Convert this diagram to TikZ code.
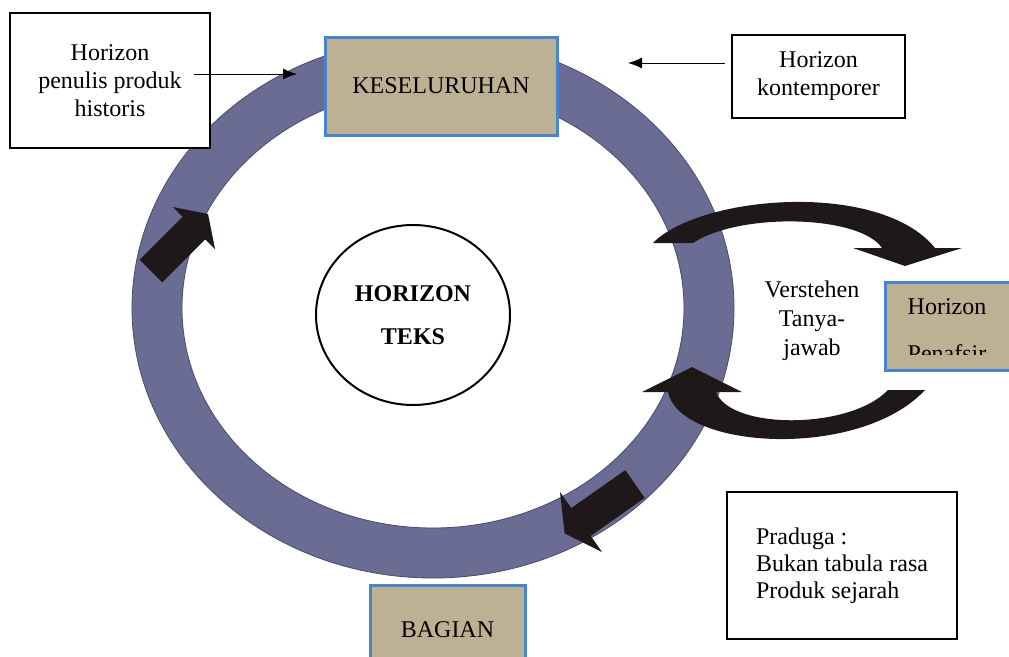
\documentclass[tikz,border=0pt]{standalone}
\usepackage{fontspec}
\setmainfont{Liberation Serif}
\usepackage{xcolor}
\usepackage{tikz}
\usetikzlibrary{arrows,arrows.meta,shapes.geometric,positioning}
\definecolor{ringblue}{RGB}{106,108,148}
\definecolor{boxtan}{RGB}{190,176,146}
\definecolor{edgeblue}{RGB}{72,132,204}
\definecolor{arrowblack}{RGB}{30,24,24}
\tikzset{
  notebox/.style={draw=black, line width=2.5pt, fill=white, align=center,
  inner sep=0pt},
  tanbox/.style={draw=edgeblue, line width=3pt, fill=boxtan, inner sep=0pt},
  thinarrow/.style={-{Latex[length=14pt,width=11pt]}, line width=1pt},
  blockarrow/.style={fill=arrowblack, draw=none},
  textfont/.style={font=\fontsize{24}{28}\selectfont}
}

\begin{document}
\begin{tikzpicture}[x=1pt, y=-1pt, every node/.style={textfont}]
		\useasboundingbox (0,0) rectangle (1009,656);
		\clip (0,0) rectangle (1009,656);
		\fill[white] (0,0) rectangle (1009,656);
		% ring
		\path[fill=ringblue, draw=ringblue!70!black, line width=0.8pt, even odd rule]
			(433,308) ellipse [x radius=301, y radius=270]
			(433,308) ellipse [x radius=251, y radius=220];
		\node[ellipse, draw, line width=2pt, minimum width=194pt, minimum height=180pt,
			align=center, font=\fontsize{24}{43}\selectfont\bfseries] (teks) at (413,315)
			{HORIZON\\TEKS};
		% boxes
		\node[notebox, minimum width=200pt, minimum height=135pt] (penulis) at (110,80.5)
			{Horizon\\penulis produk\\historis};
		\node[tanbox, minimum width=232pt, minimum height=98pt] (keseluruhan) at (441,86)
			{KESELURUHAN};
		\node[notebox, minimum width=173pt, minimum height=83pt] (kontemporer) at (818.5,76.5)
			{Horizon\\kontemporer};
		\node[tanbox, minimum width=155pt, minimum height=90pt] (bagian) at (447.5,630)
			{BAGIAN};
		\node[notebox, minimum width=230pt, minimum height=147pt, align=left,
			font=\fontsize{24}{27}\selectfont] (praduga) at (842,565.5)
			{Praduga :\\Bukan tabula rasa\\Produk sejarah};
		\node[align=center, font=\fontsize{24}{29}\selectfont] (verstehen) at (812,321)
			{Verstehen\\Tanya-\\jawab};
		\node[tanbox, minimum width=125pt, minimum height=88pt] (penafsir) at (947.5,326) {};
		\node (penafsir title) at (947,307) {Horizon};
		\begin{scope}
			\clip (885,282) rectangle (1010,354);
			\node[anchor=base] (penafsir name) at (947,361) {Penafsir};
		\end{scope}
		% curved arrows
		\fill[blockarrow] (653,243) .. controls (700,195) and (880,180) .. (935,248)
			-- (962,248) -- (905,266) -- (853,248) -- (882,248)
			.. controls (860,215) and (740,212) .. (693,243) -- cycle;
		\fill[blockarrow] (925,390) .. controls (860,460) and (680,450) .. (668,392)
			-- (642,392) -- (692,367) -- (742,392) -- (716,392)
			.. controls (730,430) and (850,430) .. (888,390) -- cycle;
		% arrows on the ring
		\fill[blockarrow] (139.7,259.7) -- (182.7,216.7) -- (173,207) -- (208,214)
			-- (215,249) -- (205.3,239.3) -- (162.3,282.3) -- cycle;
		\fill[blockarrow] (625.3,470.1) -- (571.3,508.1) -- (560,492) -- (564.6,533.4)
			-- (602,552) -- (590.7,535.9) -- (644.7,497.9) -- cycle;
		% thin arrows
		\coordinate (penulis tip) at (297,74);
		\coordinate (kontemporer tip) at (628,63);
		\draw[thinarrow] ([xshift=-17pt,yshift=6.5pt]penulis.east) -- (penulis tip);
		\draw[thinarrow] ([xshift=-6pt,yshift=13.5pt]kontemporer.west) -- (kontemporer tip);
\end{tikzpicture}
\end{document}
